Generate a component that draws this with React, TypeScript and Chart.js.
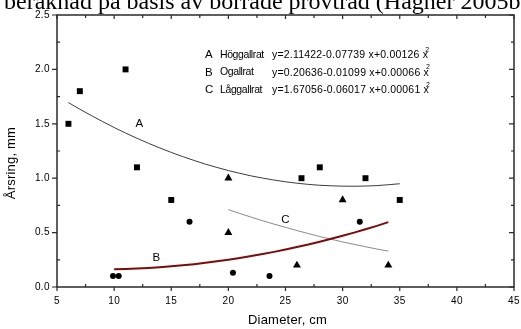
import React, { useEffect, useRef } from "react";
import { Chart, registerables } from "chart.js";

Chart.register(...registerables);

// Observations
const squareX = [6, 7, 11, 12, 15, 26.4, 28, 32, 35];
const squareY = [1.5, 1.8, 2.0, 1.1, 0.8, 1.0, 1.1, 1.0, 0.8];
const triangleX = [20, 20, 26, 30, 34];
const triangleY = [1.0, 0.5, 0.2, 0.8, 0.2];
const circleX = [9.9, 10.4, 16.6, 20.4, 23.6, 31.5];
const circleY = [0.1, 0.1, 0.6, 0.13, 0.1, 0.6];

// Fitted curves
const curveAX = [6, 7, 8, 9, 10, 11, 12, 13, 14, 15, 16, 17, 18, 19, 20, 21, 22, 23, 24, 25, 26, 27, 28, 29, 30, 31, 32, 33, 34, 35];
const curveAY = [1.695, 1.634, 1.576, 1.520, 1.466, 1.415, 1.367, 1.321, 1.278, 1.237, 1.199, 1.163, 1.129, 1.099, 1.070, 1.045, 1.021, 1.001, 0.983, 0.967, 0.954, 0.943, 0.935, 0.930, 0.927, 0.926, 0.928, 0.932, 0.940, 0.949];
const curveBX = [10, 11, 12, 13, 14, 15, 16, 17, 18, 19, 20, 21, 22, 23, 24, 25, 26, 27, 28, 29, 30, 31, 32, 33, 34];
const curveBY = [0.162, 0.165, 0.170, 0.175, 0.182, 0.190, 0.199, 0.210, 0.222, 0.236, 0.251, 0.267, 0.284, 0.303, 0.323, 0.344, 0.367, 0.391, 0.416, 0.443, 0.471, 0.500, 0.531, 0.562, 0.596];
const curveCX = [20, 21, 22, 23, 24, 25, 26, 27, 28, 29, 30, 31, 32, 33, 34];
const curveCY = [0.711, 0.676, 0.642, 0.609, 0.578, 0.548, 0.519, 0.491, 0.464, 0.439, 0.414, 0.392, 0.370, 0.349, 0.330];

// Axis ticks
const xMajorTicks = [5, 10, 15, 20, 25, 30, 35, 40, 45];
const xMinorTicks = [7.5, 12.5, 17.5, 22.5, 27.5, 32.5, 37.5, 42.5];
const yMajorTicks = [0, 0.5, 1.0, 1.5, 2.0, 2.5];
const yMinorTicks = [0.25, 0.75, 1.25, 1.75, 2.25];
const yTickLabels = ["0.0", "0.5", "1.0", "1.5", "2.0", "2.5"];

// Texts
const pageText = "beräknad på basis av borrade provträd (Hagner 2005b)";
const xTitle = "Diameter, cm";
const yTitle = "Årsring, mm";
const legendKeys = ["A", "B", "C"];
const legendNames = ["Höggallrat", "Ogallrat", "Låggallrat"];
const legendEquations = ["y=2.11422-0.07739 x+0.00126 x", "y=0.20636-0.01099 x+0.00066 x", "y=1.67056-0.06017 x+0.00061 x"];
const curveLabels = [
  { text: "A", x: 12.2, y: 1.5 },
  { text: "B", x: 13.7, y: 0.27 },
  { text: "C", x: 25.0, y: 0.62 },
];

const SANS = '"Liberation Sans", Arial, sans-serif';

const pts = (xs: number[], ys: number[]) => xs.map((x, i) => ({ x, y: ys[i] }));

const decorPlugin = {
  id: "decor",
  afterDraw(chart: any) {
    const ctx = chart.ctx as CanvasRenderingContext2D;
    const xs = chart.scales.x;
    const ys = chart.scales.y;
    const { left, right, top, bottom } = chart.chartArea;
    ctx.save();

    // page text (cut at top)
    ctx.fillStyle = "#000";
    ctx.font = '24px "Liberation Serif", "Times New Roman", serif';
    ctx.textAlign = "left";
    ctx.textBaseline = "alphabetic";
    ctx.fillText(pageText, 4, 8.5);

    // frame
    ctx.strokeStyle = "#2a2a2a";
    ctx.lineWidth = 1.5;
    ctx.beginPath();
    ctx.rect(left, top, right - left, bottom - top);
    ctx.stroke();

    ctx.lineWidth = 1.2;
    ctx.beginPath();
    xMajorTicks.forEach((v) => {
      const px = xs.getPixelForValue(v);
      ctx.moveTo(px, bottom);
      ctx.lineTo(px, bottom + 4);
      ctx.moveTo(px, top);
      ctx.lineTo(px, top + 4);
    });
    xMinorTicks.forEach((v) => {
      const px = xs.getPixelForValue(v);
      ctx.moveTo(px, bottom);
      ctx.lineTo(px, bottom - 3);
      ctx.moveTo(px, top);
      ctx.lineTo(px, top + 3);
    });
    yMajorTicks.forEach((v) => {
      const py = ys.getPixelForValue(v);
      ctx.moveTo(left, py);
      ctx.lineTo(left - 5, py);
      ctx.moveTo(right, py);
      ctx.lineTo(right - 5, py);
    });
    yMinorTicks.forEach((v) => {
      const py = ys.getPixelForValue(v);
      ctx.moveTo(left, py);
      ctx.lineTo(left + 3, py);
      ctx.moveTo(right, py);
      ctx.lineTo(right - 3, py);
    });
    ctx.stroke();

    // tick labels
    ctx.fillStyle = "#000";
    ctx.font = `10px ${SANS}`;
    (ctx as any).letterSpacing = "0.4px";
    ctx.textAlign = "right";
    ctx.textBaseline = "middle";
    yMajorTicks.forEach((v, i) => {
      ctx.fillText(yTickLabels[i], left - 7, ys.getPixelForValue(v));
    });
    ctx.textAlign = "center";
    xMajorTicks.forEach((v) => {
      ctx.fillText(String(v), xs.getPixelForValue(v), bottom + 14);
    });

    // axis titles
    ctx.font = `13px ${SANS}`;
    (ctx as any).letterSpacing = "0.2px";
    ctx.textAlign = "center";
    ctx.fillText(xTitle, (left + right) / 2 + 2, bottom + 33);
    ctx.save();
    ctx.translate(11, 163);
    ctx.rotate(-Math.PI / 2);
    ctx.fillText(yTitle, 0, 0);
    ctx.restore();

    // legend block
    const rowsY = [55, 72.5, 90];
    legendKeys.forEach((k, i) => {
      const y = rowsY[i];
      ctx.textAlign = "left";
      ctx.font = `11.5px ${SANS}`;
      (ctx as any).letterSpacing = "0px";
      ctx.fillText(k, 205, y);
      ctx.font = `10.5px ${SANS}`;
      (ctx as any).letterSpacing = "-0.4px";
      ctx.fillText(legendNames[i], 220, y);
      ctx.font = `10.5px ${SANS}`;
      (ctx as any).letterSpacing = "0.2px";
      ctx.fillText(legendEquations[i], 272, y + 0.5);
      const w = ctx.measureText(legendEquations[i]).width;
      ctx.font = `7px ${SANS}`;
      (ctx as any).letterSpacing = "0px";
      ctx.fillText("2", 272 + w - 3, y - 5);
    });

    // curve labels
    ctx.font = `11.5px ${SANS}`;
    ctx.textAlign = "center";
    curveLabels.forEach((l) => {
      ctx.fillText(l.text, xs.getPixelForValue(l.x), ys.getPixelForValue(l.y));
    });

    ctx.restore();
  },
};

export default function App() {
  const canvasRef = useRef<HTMLCanvasElement | null>(null);

  useEffect(() => {
    document.body.style.margin = "0";
    const canvas = canvasRef.current;
    if (!canvas) return;
    const chart = new Chart(canvas, {
      type: "scatter",
      data: {
        datasets: [
          {
            label: "A",
            data: pts(curveAX, curveAY),
            showLine: true,
            borderColor: "#3c3c3c",
            borderWidth: 1,
            pointRadius: 0,
            tension: 0,
          },
          {
            label: "B",
            data: pts(curveBX, curveBY),
            showLine: true,
            borderColor: "#7a0c0c",
            borderWidth: 2,
            pointRadius: 0,
            tension: 0,
          },
          {
            label: "C",
            data: pts(curveCX, curveCY),
            showLine: true,
            borderColor: "#8a8a8a",
            borderWidth: 1,
            pointRadius: 0,
            tension: 0,
          },
          {
            label: "squares",
            data: pts(squareX, squareY),
            pointStyle: "rect",
            pointRadius: 4.2,
            backgroundColor: "#000",
            borderColor: "#000",
            borderWidth: 0,
          },
          {
            label: "triangles",
            data: pts(triangleX, triangleY),
            pointStyle: "triangle",
            pointRadius: 4.6,
            backgroundColor: "#000",
            borderColor: "#000",
            borderWidth: 0,
          },
          {
            label: "circles",
            data: pts(circleX, circleY),
            pointStyle: "circle",
            pointRadius: 3,
            backgroundColor: "#000",
            borderColor: "#000",
            borderWidth: 0,
          },
        ],
      },
      options: {
        animation: false,
        responsive: true,
        maintainAspectRatio: false,
        layout: { padding: { left: 57, right: 7, top: 15, bottom: 42 } },
        plugins: { legend: { display: false }, tooltip: { enabled: false }, title: { display: false } },
        events: [],
        scales: {
          x: { type: "linear", min: 5, max: 45, display: false },
          y: { type: "linear", min: 0, max: 2.5, display: false },
        },
      },
      plugins: [decorPlugin],
    });
    return () => chart.destroy();
  }, []);

  return (
    <div style={{ position: "fixed", left: 0, top: 0, width: 521, height: 329, background: "#fff" }}>
      <canvas ref={canvasRef} />
    </div>
  );
}
